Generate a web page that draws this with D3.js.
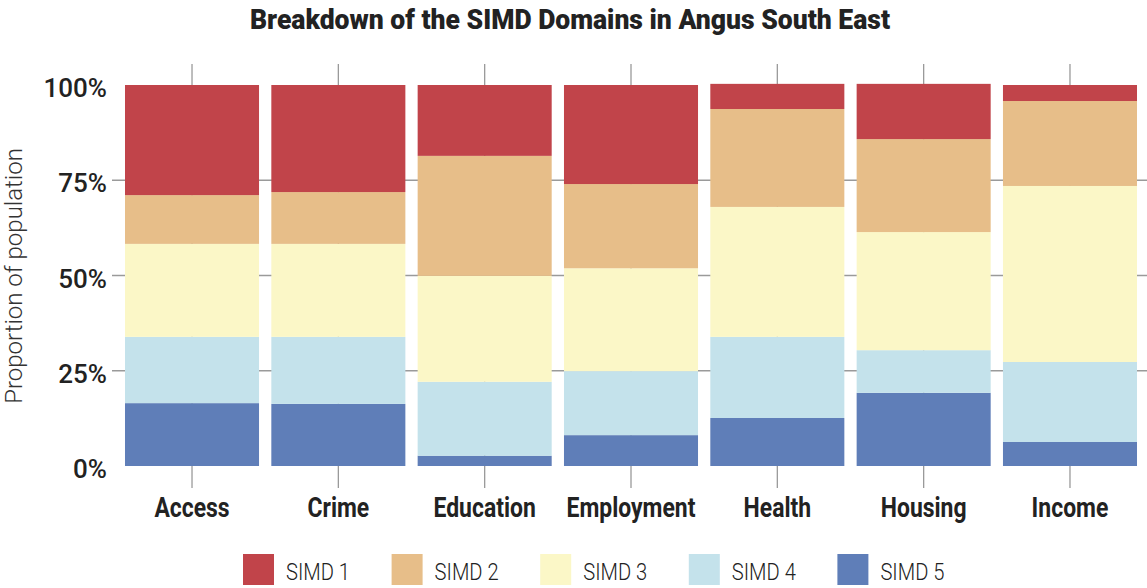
<!DOCTYPE html>
<html><head><meta charset="utf-8">
<script src="https://cdn.jsdelivr.net/npm/d3@7"></script>
<style>body{margin:0;background:#fff}svg{display:block}text{font-family:Roboto,"Open Sans",sans-serif}</style>
</head><body>
<svg id="c" width="1147" height="588"></svg>
<script>
const categories = ["Access","Crime","Education","Employment","Health","Housing","Income"];
const seriesNames = ["SIMD 1","SIMD 2","SIMD 3","SIMD 4","SIMD 5"];
const simd1 = [0.289,0.281,0.186,0.260,0.066,0.145,0.042];
const simd2 = [0.128,0.136,0.315,0.221,0.257,0.244,0.223];
const simd3 = [0.244,0.244,0.278,0.270,0.341,0.310,0.462];
const simd4 = [0.174,0.176,0.194,0.168,0.213,0.112,0.210];
const simd5 = [0.165,0.163,0.027,0.081,0.126,0.192,0.063];
const yTicks = [0,0.25,0.5,0.75,1];
const colors = ["#C1444A","#E7BE89","#FBF7C7","#C4E2EB","#5F7EB8"];

const svg = d3.select("#c");
const rows = categories.map((c,i)=>({cat:c,"SIMD 1":simd1[i],"SIMD 2":simd2[i],"SIMD 3":simd3[i],"SIMD 4":simd4[i],"SIMD 5":simd5[i]}));
const stackOrder = seriesNames.slice().reverse();
const stacked = d3.stack().keys(stackOrder)(rows);

const x = d3.scaleBand().domain(categories).range([118.85,1143.15]).paddingInner(0.084).paddingOuter(0.042);
const y = d3.scaleLinear().domain([0,1]).range([466,85]);
const color = d3.scaleOrdinal().domain(seriesNames).range(colors);

const panelTop = 64, panelBottom = 488, panelLeft = 112, panelRight = 1147;

svg.append("g").selectAll("line").data([0.25,0.5,0.75]).join("line")
  .attr("x1",panelLeft).attr("x2",panelRight)
  .attr("y1",d=>y(d)).attr("y2",d=>y(d))
  .attr("stroke","#9a9a9a").attr("stroke-width",1.3);
svg.append("g").selectAll("line").data(categories).join("line")
  .attr("x1",d=>x(d)+x.bandwidth()/2).attr("x2",d=>x(d)+x.bandwidth()/2)
  .attr("y1",panelTop).attr("y2",panelBottom)
  .attr("stroke","#9a9a9a").attr("stroke-width",1.3);

svg.append("g").selectAll("g").data(stacked).join("g")
  .attr("fill",d=>color(d.key))
  .selectAll("rect").data(d=>d).join("rect")
  .attr("x",d=>x(d.data.cat))
  .attr("width",x.bandwidth())
  .attr("y",d=>y(d[1]))
  .attr("height",d=>y(d[0])-y(d[1]));

svg.append("g").selectAll("text").data(yTicks).join("text")
  .attr("x",107).attr("y",d=>y(d)+12)
  .attr("text-anchor","end")
  .attr("font-size",26).attr("font-weight",500).attr("fill","#222")
  .text(d=>d3.format(".0%")(d));

svg.append("g").selectAll("text").data(categories).join("text")
  .attr("transform",d=>`translate(${x(d)+x.bandwidth()/2},517) scale(0.85,1)`)
  .attr("text-anchor","middle")
  .attr("font-size",27).attr("font-weight",700).attr("fill","#222")
  .text(d=>d);

svg.append("text")
  .attr("transform","translate(22,276) rotate(-90)")
  .attr("text-anchor","middle")
  .attr("font-size",24).attr("font-weight",300).attr("fill","#333")
  .text("Proportion of population");

svg.append("text")
  .attr("x",250).attr("y",29)
  .attr("textLength",640).attr("lengthAdjust","spacingAndGlyphs")
  .attr("font-size",28).attr("font-weight",900).attr("fill","#222")
  .text("Breakdown of the SIMD Domains in Angus South East");

const lg = svg.append("g").selectAll("g").data(seriesNames).join("g")
  .attr("transform",(d,i)=>`translate(${243+i*148.6},554)`);
lg.append("rect").attr("width",31).attr("height",31).attr("fill",d=>color(d));
lg.append("text").attr("transform","translate(43,25.5) scale(0.84,1)")
  .attr("font-size",24).attr("font-weight",300).attr("fill","#222").text(d=>d);
</script>
</body></html>
